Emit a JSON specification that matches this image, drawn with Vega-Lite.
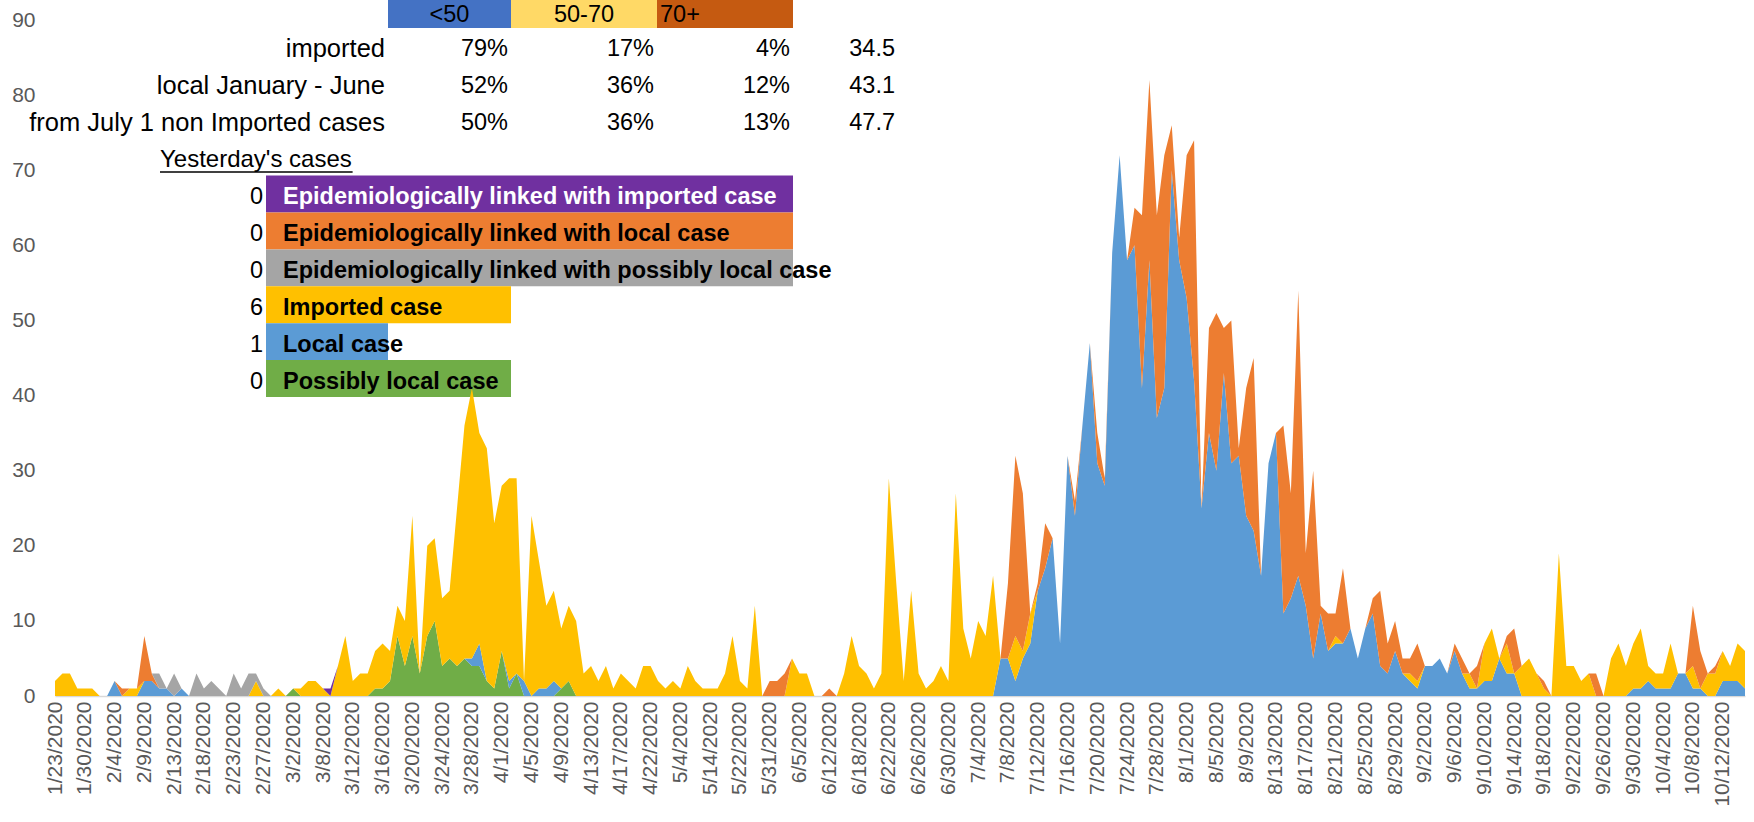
{
"$schema": "https://vega.github.io/schema/vega-lite/v6.json",
"width": 1690,
"height": 676,
"autosize": {"type": "none"},
"padding": {"left": 55, "top": 20, "right": 9, "bottom": 126},
"background": "white",
"config": {"view": {"stroke": null}, "font": "Liberation Sans"},
"datasets": {
"series": [{"key":"pl","rank":1},{"key":"l","rank":2},{"key":"imp","rank":3},{"key":"ll","rank":4},{"key":"lpl","rank":5},{"key":"li","rank":6}],
"cells": [
{"key":"<50","c0":2,"c1":3,"r0":0,"r1":1},
{"key":"50-70","c0":3,"c1":4,"r0":0,"r1":1},
{"key":"70+","c0":4,"c1":5,"r0":0,"r1":1},
{"key":"li","c0":1,"c1":5,"r0":5,"r1":6},
{"key":"ll","c0":1,"c1":5,"r0":6,"r1":7},
{"key":"lpl","c0":1,"c1":5,"r0":7,"r1":8},
{"key":"imp","c0":1,"c1":3,"r0":8,"r1":9},
{"key":"l","c0":1,"c1":2,"r0":9,"r1":10},
{"key":"pl","c0":1,"c1":3,"r0":10,"r1":11}
],
"texts": [
{"kind":"head-c","col":2,"row":0,"text":"<50"},
{"kind":"head-c","col":3,"row":0,"text":"50-70"},
{"kind":"head-l","col":4,"row":0,"text":"70+"},
{"kind":"rowlabel","col":1,"row":1,"text":"imported"},
{"kind":"cell","col":2,"row":1,"text":"79%"},
{"kind":"cell","col":3,"row":1,"text":"17%"},
{"kind":"cell","col":4,"row":1,"text":"4%"},
{"kind":"cell","col":5,"row":1,"text":"34.5"},
{"kind":"rowlabel","col":1,"row":2,"text":"local January - June"},
{"kind":"cell","col":2,"row":2,"text":"52%"},
{"kind":"cell","col":3,"row":2,"text":"36%"},
{"kind":"cell","col":4,"row":2,"text":"12%"},
{"kind":"cell","col":5,"row":2,"text":"43.1"},
{"kind":"rowlabel","col":1,"row":3,"text":"from July 1 non Imported cases"},
{"kind":"cell","col":2,"row":3,"text":"50%"},
{"kind":"cell","col":3,"row":3,"text":"36%"},
{"kind":"cell","col":4,"row":3,"text":"13%"},
{"kind":"cell","col":5,"row":3,"text":"47.7"},
{"kind":"title","col":0,"row":4,"text":"Yesterday's cases"},
{"kind":"cell","col":0,"row":5,"text":"0"},
{"kind":"cell","col":0,"row":6,"text":"0"},
{"kind":"cell","col":0,"row":7,"text":"0"},
{"kind":"cell","col":0,"row":8,"text":"6"},
{"kind":"cell","col":0,"row":9,"text":"1"},
{"kind":"cell","col":0,"row":10,"text":"0"},
{"kind":"legend","col":1,"row":5,"text":"Epidemiologically linked with imported case"},
{"kind":"legend","col":1,"row":6,"text":"Epidemiologically linked with local case"},
{"kind":"legend","col":1,"row":7,"text":"Epidemiologically linked with possibly local case"},
{"kind":"legend","col":1,"row":8,"text":"Imported case"},
{"kind":"legend","col":1,"row":9,"text":"Local case"},
{"kind":"legend","col":1,"row":10,"text":"Possibly local case"}
],
"cases": [
{"date":"1/23/2020","pl":0,"l":0,"imp":2,"ll":0,"lpl":0,"li":0},
{"date":"1/24/2020","pl":0,"l":0,"imp":3,"ll":0,"lpl":0,"li":0},
{"date":"1/26/2020","pl":0,"l":0,"imp":3,"ll":0,"lpl":0,"li":0},
{"date":"1/28/2020","pl":0,"l":0,"imp":1,"ll":0,"lpl":0,"li":0},
{"date":"1/30/2020","pl":0,"l":0,"imp":1,"ll":0,"lpl":0,"li":0},
{"date":"1/31/2020","pl":0,"l":0,"imp":1,"ll":0,"lpl":0,"li":0},
{"date":"2/1/2020","pl":0,"l":0,"imp":0,"ll":0,"lpl":0,"li":0},
{"date":"2/3/2020","pl":0,"l":0,"imp":0,"ll":0,"lpl":0,"li":0},
{"date":"2/4/2020","pl":0,"l":2,"imp":0,"ll":0,"lpl":0,"li":0},
{"date":"2/5/2020","pl":0,"l":0,"imp":0,"ll":1,"lpl":0,"li":0},
{"date":"2/7/2020","pl":0,"l":0,"imp":1,"ll":0,"lpl":0,"li":0},
{"date":"2/8/2020","pl":0,"l":0,"imp":1,"ll":0,"lpl":0,"li":0},
{"date":"2/9/2020","pl":0,"l":2,"imp":0,"ll":6,"lpl":0,"li":0},
{"date":"2/10/2020","pl":0,"l":2,"imp":0,"ll":1,"lpl":0,"li":0},
{"date":"2/11/2020","pl":0,"l":1,"imp":0,"ll":0,"lpl":2,"li":0},
{"date":"2/12/2020","pl":0,"l":1,"imp":0,"ll":0,"lpl":0,"li":0},
{"date":"2/13/2020","pl":0,"l":0,"imp":0,"ll":0,"lpl":3,"li":0},
{"date":"2/14/2020","pl":0,"l":1,"imp":0,"ll":0,"lpl":0,"li":0},
{"date":"2/15/2020","pl":0,"l":0,"imp":0,"ll":0,"lpl":0,"li":0},
{"date":"2/17/2020","pl":0,"l":0,"imp":0,"ll":0,"lpl":3,"li":0},
{"date":"2/18/2020","pl":0,"l":0,"imp":0,"ll":0,"lpl":1,"li":0},
{"date":"2/19/2020","pl":0,"l":0,"imp":0,"ll":0,"lpl":2,"li":0},
{"date":"2/20/2020","pl":0,"l":0,"imp":0,"ll":0,"lpl":1,"li":0},
{"date":"2/22/2020","pl":0,"l":0,"imp":0,"ll":0,"lpl":0,"li":0},
{"date":"2/23/2020","pl":0,"l":0,"imp":0,"ll":0,"lpl":3,"li":0},
{"date":"2/24/2020","pl":0,"l":0,"imp":0,"ll":0,"lpl":1,"li":0},
{"date":"2/25/2020","pl":0,"l":0,"imp":0,"ll":0,"lpl":3,"li":0},
{"date":"2/26/2020","pl":0,"l":0,"imp":2,"ll":0,"lpl":1,"li":0},
{"date":"2/27/2020","pl":0,"l":0,"imp":0,"ll":0,"lpl":1,"li":0},
{"date":"2/28/2020","pl":0,"l":0,"imp":0,"ll":0,"lpl":0,"li":0},
{"date":"2/29/2020","pl":0,"l":0,"imp":1,"ll":0,"lpl":0,"li":0},
{"date":"3/1/2020","pl":0,"l":0,"imp":0,"ll":0,"lpl":0,"li":0},
{"date":"3/2/2020","pl":1,"l":0,"imp":0,"ll":0,"lpl":0,"li":0},
{"date":"3/4/2020","pl":0,"l":0,"imp":1,"ll":0,"lpl":0,"li":0},
{"date":"3/5/2020","pl":0,"l":0,"imp":2,"ll":0,"lpl":0,"li":0},
{"date":"3/7/2020","pl":0,"l":0,"imp":2,"ll":0,"lpl":0,"li":0},
{"date":"3/8/2020","pl":0,"l":0,"imp":1,"ll":0,"lpl":0,"li":0},
{"date":"3/9/2020","pl":0,"l":0,"imp":0,"ll":0,"lpl":0,"li":1},
{"date":"3/10/2020","pl":0,"l":0,"imp":4,"ll":0,"lpl":0,"li":0},
{"date":"3/11/2020","pl":0,"l":0,"imp":8,"ll":0,"lpl":0,"li":0},
{"date":"3/12/2020","pl":0,"l":0,"imp":2,"ll":0,"lpl":0,"li":0},
{"date":"3/13/2020","pl":0,"l":0,"imp":3,"ll":0,"lpl":0,"li":0},
{"date":"3/14/2020","pl":0,"l":0,"imp":3,"ll":0,"lpl":0,"li":0},
{"date":"3/15/2020","pl":1,"l":0,"imp":5,"ll":0,"lpl":0,"li":0},
{"date":"3/16/2020","pl":1,"l":0,"imp":6,"ll":0,"lpl":0,"li":0},
{"date":"3/17/2020","pl":2,"l":0,"imp":4,"ll":0,"lpl":0,"li":0},
{"date":"3/18/2020","pl":8,"l":0,"imp":4,"ll":0,"lpl":0,"li":0},
{"date":"3/19/2020","pl":4,"l":0,"imp":6,"ll":0,"lpl":0,"li":0},
{"date":"3/20/2020","pl":8,"l":0,"imp":16,"ll":0,"lpl":0,"li":0},
{"date":"3/21/2020","pl":3,"l":0,"imp":0,"ll":0,"lpl":0,"li":0},
{"date":"3/22/2020","pl":8,"l":0,"imp":12,"ll":0,"lpl":0,"li":0},
{"date":"3/23/2020","pl":10,"l":0,"imp":11,"ll":0,"lpl":0,"li":0},
{"date":"3/24/2020","pl":4,"l":0,"imp":9,"ll":0,"lpl":0,"li":0},
{"date":"3/25/2020","pl":5,"l":0,"imp":9,"ll":0,"lpl":0,"li":0},
{"date":"3/26/2020","pl":4,"l":0,"imp":21,"ll":0,"lpl":0,"li":0},
{"date":"3/27/2020","pl":5,"l":0,"imp":31,"ll":0,"lpl":0,"li":0},
{"date":"3/28/2020","pl":4,"l":1,"imp":36,"ll":0,"lpl":0,"li":0},
{"date":"3/29/2020","pl":4,"l":3,"imp":28,"ll":0,"lpl":0,"li":0},
{"date":"3/30/2020","pl":2,"l":0,"imp":31,"ll":0,"lpl":0,"li":0},
{"date":"3/31/2020","pl":1,"l":0,"imp":22,"ll":0,"lpl":0,"li":0},
{"date":"4/1/2020","pl":6,"l":0,"imp":22,"ll":0,"lpl":0,"li":0},
{"date":"4/2/2020","pl":1,"l":1,"imp":27,"ll":0,"lpl":0,"li":0},
{"date":"4/3/2020","pl":3,"l":0,"imp":26,"ll":0,"lpl":0,"li":0},
{"date":"4/4/2020","pl":0,"l":2,"imp":0,"ll":0,"lpl":0,"li":0},
{"date":"4/5/2020","pl":0,"l":0,"imp":24,"ll":0,"lpl":0,"li":0},
{"date":"4/6/2020","pl":0,"l":1,"imp":17,"ll":0,"lpl":0,"li":0},
{"date":"4/7/2020","pl":0,"l":1,"imp":11,"ll":0,"lpl":0,"li":0},
{"date":"4/8/2020","pl":0,"l":2,"imp":12,"ll":0,"lpl":0,"li":0},
{"date":"4/9/2020","pl":1,"l":0,"imp":8,"ll":0,"lpl":0,"li":0},
{"date":"4/10/2020","pl":2,"l":0,"imp":10,"ll":0,"lpl":0,"li":0},
{"date":"4/11/2020","pl":0,"l":0,"imp":10,"ll":0,"lpl":0,"li":0},
{"date":"4/12/2020","pl":0,"l":0,"imp":3,"ll":0,"lpl":0,"li":0},
{"date":"4/13/2020","pl":0,"l":0,"imp":4,"ll":0,"lpl":0,"li":0},
{"date":"4/14/2020","pl":0,"l":0,"imp":2,"ll":0,"lpl":0,"li":0},
{"date":"4/15/2020","pl":0,"l":0,"imp":4,"ll":0,"lpl":0,"li":0},
{"date":"4/16/2020","pl":0,"l":0,"imp":1,"ll":0,"lpl":0,"li":0},
{"date":"4/17/2020","pl":0,"l":0,"imp":3,"ll":0,"lpl":0,"li":0},
{"date":"4/18/2020","pl":0,"l":0,"imp":2,"ll":0,"lpl":0,"li":0},
{"date":"4/20/2020","pl":0,"l":0,"imp":1,"ll":0,"lpl":0,"li":0},
{"date":"4/21/2020","pl":0,"l":0,"imp":4,"ll":0,"lpl":0,"li":0},
{"date":"4/22/2020","pl":0,"l":0,"imp":4,"ll":0,"lpl":0,"li":0},
{"date":"4/25/2020","pl":0,"l":0,"imp":2,"ll":0,"lpl":0,"li":0},
{"date":"4/28/2020","pl":0,"l":0,"imp":1,"ll":0,"lpl":0,"li":0},
{"date":"5/1/2020","pl":0,"l":0,"imp":2,"ll":0,"lpl":0,"li":0},
{"date":"5/4/2020","pl":0,"l":0,"imp":1,"ll":0,"lpl":0,"li":0},
{"date":"5/6/2020","pl":0,"l":0,"imp":4,"ll":0,"lpl":0,"li":0},
{"date":"5/9/2020","pl":0,"l":0,"imp":2,"ll":0,"lpl":0,"li":0},
{"date":"5/12/2020","pl":0,"l":0,"imp":1,"ll":0,"lpl":0,"li":0},
{"date":"5/14/2020","pl":0,"l":0,"imp":1,"ll":0,"lpl":0,"li":0},
{"date":"5/16/2020","pl":0,"l":0,"imp":1,"ll":0,"lpl":0,"li":0},
{"date":"5/18/2020","pl":0,"l":0,"imp":3,"ll":0,"lpl":0,"li":0},
{"date":"5/20/2020","pl":0,"l":0,"imp":8,"ll":0,"lpl":0,"li":0},
{"date":"5/22/2020","pl":0,"l":0,"imp":2,"ll":0,"lpl":0,"li":0},
{"date":"5/24/2020","pl":0,"l":0,"imp":1,"ll":0,"lpl":0,"li":0},
{"date":"5/27/2020","pl":0,"l":0,"imp":12,"ll":0,"lpl":0,"li":0},
{"date":"5/29/2020","pl":0,"l":0,"imp":0,"ll":0,"lpl":0,"li":0},
{"date":"5/31/2020","pl":0,"l":0,"imp":0,"ll":2,"lpl":0,"li":0},
{"date":"6/1/2020","pl":0,"l":0,"imp":0,"ll":2,"lpl":0,"li":0},
{"date":"6/2/2020","pl":0,"l":0,"imp":0,"ll":3,"lpl":0,"li":0},
{"date":"6/3/2020","pl":0,"l":0,"imp":5,"ll":0,"lpl":0,"li":0},
{"date":"6/5/2020","pl":0,"l":0,"imp":3,"ll":0,"lpl":0,"li":0},
{"date":"6/7/2020","pl":0,"l":0,"imp":3,"ll":0,"lpl":0,"li":0},
{"date":"6/9/2020","pl":0,"l":0,"imp":0,"ll":0,"lpl":0,"li":0},
{"date":"6/10/2020","pl":0,"l":0,"imp":0,"ll":0,"lpl":0,"li":0},
{"date":"6/12/2020","pl":0,"l":0,"imp":0,"ll":1,"lpl":0,"li":0},
{"date":"6/14/2020","pl":0,"l":0,"imp":0,"ll":0,"lpl":0,"li":0},
{"date":"6/15/2020","pl":0,"l":0,"imp":3,"ll":0,"lpl":0,"li":0},
{"date":"6/16/2020","pl":0,"l":0,"imp":8,"ll":0,"lpl":0,"li":0},
{"date":"6/18/2020","pl":0,"l":0,"imp":4,"ll":0,"lpl":0,"li":0},
{"date":"6/19/2020","pl":0,"l":0,"imp":3,"ll":0,"lpl":0,"li":0},
{"date":"6/20/2020","pl":0,"l":0,"imp":1,"ll":0,"lpl":0,"li":0},
{"date":"6/21/2020","pl":0,"l":0,"imp":3,"ll":0,"lpl":0,"li":0},
{"date":"6/22/2020","pl":0,"l":0,"imp":29,"ll":0,"lpl":0,"li":0},
{"date":"6/23/2020","pl":0,"l":0,"imp":15,"ll":0,"lpl":0,"li":0},
{"date":"6/24/2020","pl":0,"l":0,"imp":2,"ll":0,"lpl":0,"li":0},
{"date":"6/25/2020","pl":0,"l":0,"imp":14,"ll":0,"lpl":0,"li":0},
{"date":"6/26/2020","pl":0,"l":0,"imp":3,"ll":0,"lpl":0,"li":0},
{"date":"6/27/2020","pl":0,"l":0,"imp":1,"ll":0,"lpl":0,"li":0},
{"date":"6/28/2020","pl":0,"l":0,"imp":2,"ll":0,"lpl":0,"li":0},
{"date":"6/29/2020","pl":0,"l":0,"imp":4,"ll":0,"lpl":0,"li":0},
{"date":"6/30/2020","pl":0,"l":0,"imp":2,"ll":0,"lpl":0,"li":0},
{"date":"7/1/2020","pl":0,"l":0,"imp":27,"ll":0,"lpl":0,"li":0},
{"date":"7/2/2020","pl":0,"l":0,"imp":9,"ll":0,"lpl":0,"li":0},
{"date":"7/3/2020","pl":0,"l":0,"imp":5,"ll":0,"lpl":0,"li":0},
{"date":"7/4/2020","pl":0,"l":0,"imp":10,"ll":0,"lpl":0,"li":0},
{"date":"7/5/2020","pl":0,"l":0,"imp":8,"ll":0,"lpl":0,"li":0},
{"date":"7/6/2020","pl":0,"l":0,"imp":16,"ll":0,"lpl":0,"li":0},
{"date":"7/7/2020","pl":0,"l":5,"imp":0,"ll":0,"lpl":0,"li":0},
{"date":"7/8/2020","pl":0,"l":5,"imp":0,"ll":10,"lpl":0,"li":0},
{"date":"7/9/2020","pl":0,"l":2,"imp":6,"ll":24,"lpl":0,"li":0},
{"date":"7/10/2020","pl":0,"l":5,"imp":1,"ll":21,"lpl":0,"li":0},
{"date":"7/11/2020","pl":0,"l":7,"imp":4,"ll":0,"lpl":0,"li":0},
{"date":"7/12/2020","pl":0,"l":14,"imp":0,"ll":1,"lpl":0,"li":0},
{"date":"7/13/2020","pl":0,"l":17,"imp":0,"ll":6,"lpl":0,"li":0},
{"date":"7/14/2020","pl":0,"l":21,"imp":0,"ll":0,"lpl":0,"li":0},
{"date":"7/15/2020","pl":0,"l":7,"imp":0,"ll":0,"lpl":0,"li":0},
{"date":"7/16/2020","pl":0,"l":32,"imp":0,"ll":0,"lpl":0,"li":0},
{"date":"7/17/2020","pl":0,"l":24,"imp":0,"ll":2,"lpl":0,"li":0},
{"date":"7/18/2020","pl":0,"l":36,"imp":0,"ll":0,"lpl":0,"li":0},
{"date":"7/19/2020","pl":0,"l":47,"imp":0,"ll":0,"lpl":0,"li":0},
{"date":"7/20/2020","pl":0,"l":31,"imp":0,"ll":4,"lpl":0,"li":0},
{"date":"7/21/2020","pl":0,"l":28,"imp":0,"ll":1,"lpl":0,"li":0},
{"date":"7/22/2020","pl":0,"l":59,"imp":0,"ll":0,"lpl":0,"li":0},
{"date":"7/23/2020","pl":0,"l":72,"imp":0,"ll":0,"lpl":0,"li":0},
{"date":"7/24/2020","pl":0,"l":58,"imp":0,"ll":0,"lpl":0,"li":0},
{"date":"7/25/2020","pl":0,"l":60,"imp":0,"ll":5,"lpl":0,"li":0},
{"date":"7/26/2020","pl":0,"l":41,"imp":0,"ll":23,"lpl":0,"li":0},
{"date":"7/27/2020","pl":0,"l":58,"imp":0,"ll":24,"lpl":0,"li":0},
{"date":"7/28/2020","pl":0,"l":37,"imp":0,"ll":27,"lpl":0,"li":0},
{"date":"7/29/2020","pl":0,"l":41,"imp":0,"ll":31,"lpl":0,"li":0},
{"date":"7/30/2020","pl":0,"l":70,"imp":0,"ll":6,"lpl":0,"li":0},
{"date":"7/31/2020","pl":0,"l":58,"imp":0,"ll":3,"lpl":0,"li":0},
{"date":"8/1/2020","pl":0,"l":53,"imp":0,"ll":19,"lpl":0,"li":0},
{"date":"8/2/2020","pl":0,"l":42,"imp":0,"ll":32,"lpl":0,"li":0},
{"date":"8/3/2020","pl":0,"l":25,"imp":0,"ll":0,"lpl":0,"li":0},
{"date":"8/4/2020","pl":0,"l":35,"imp":0,"ll":14,"lpl":0,"li":0},
{"date":"8/5/2020","pl":0,"l":30,"imp":0,"ll":21,"lpl":0,"li":0},
{"date":"8/6/2020","pl":0,"l":43,"imp":0,"ll":6,"lpl":0,"li":0},
{"date":"8/7/2020","pl":0,"l":31,"imp":0,"ll":19,"lpl":0,"li":0},
{"date":"8/8/2020","pl":0,"l":32,"imp":0,"ll":1,"lpl":0,"li":0},
{"date":"8/9/2020","pl":0,"l":24,"imp":0,"ll":17,"lpl":0,"li":0},
{"date":"8/10/2020","pl":0,"l":22,"imp":0,"ll":23,"lpl":0,"li":0},
{"date":"8/11/2020","pl":0,"l":16,"imp":0,"ll":0,"lpl":0,"li":0},
{"date":"8/12/2020","pl":0,"l":31,"imp":0,"ll":0,"lpl":0,"li":0},
{"date":"8/13/2020","pl":0,"l":35,"imp":0,"ll":0,"lpl":0,"li":0},
{"date":"8/14/2020","pl":0,"l":11,"imp":0,"ll":25,"lpl":0,"li":0},
{"date":"8/15/2020","pl":0,"l":13,"imp":0,"ll":14,"lpl":0,"li":0},
{"date":"8/16/2020","pl":0,"l":16,"imp":0,"ll":38,"lpl":0,"li":0},
{"date":"8/17/2020","pl":0,"l":12,"imp":0,"ll":7,"lpl":0,"li":0},
{"date":"8/18/2020","pl":0,"l":5,"imp":0,"ll":25,"lpl":0,"li":0},
{"date":"8/19/2020","pl":0,"l":11,"imp":0,"ll":1,"lpl":0,"li":0},
{"date":"8/20/2020","pl":0,"l":6,"imp":0,"ll":5,"lpl":0,"li":0},
{"date":"8/21/2020","pl":0,"l":7,"imp":1,"ll":3,"lpl":0,"li":0},
{"date":"8/22/2020","pl":0,"l":7,"imp":0,"ll":10,"lpl":0,"li":0},
{"date":"8/23/2020","pl":0,"l":9,"imp":0,"ll":0,"lpl":0,"li":0},
{"date":"8/24/2020","pl":0,"l":5,"imp":0,"ll":0,"lpl":0,"li":0},
{"date":"8/25/2020","pl":0,"l":9,"imp":0,"ll":0,"lpl":0,"li":0},
{"date":"8/26/2020","pl":0,"l":11,"imp":0,"ll":2,"lpl":0,"li":0},
{"date":"8/27/2020","pl":0,"l":4,"imp":0,"ll":10,"lpl":0,"li":0},
{"date":"8/28/2020","pl":0,"l":3,"imp":0,"ll":4,"lpl":0,"li":0},
{"date":"8/29/2020","pl":0,"l":6,"imp":0,"ll":4,"lpl":0,"li":0},
{"date":"8/30/2020","pl":0,"l":3,"imp":0,"ll":2,"lpl":0,"li":0},
{"date":"8/31/2020","pl":0,"l":2,"imp":1,"ll":2,"lpl":0,"li":0},
{"date":"9/1/2020","pl":0,"l":1,"imp":1,"ll":5,"lpl":0,"li":0},
{"date":"9/2/2020","pl":0,"l":4,"imp":0,"ll":0,"lpl":0,"li":0},
{"date":"9/3/2020","pl":0,"l":4,"imp":0,"ll":0,"lpl":0,"li":0},
{"date":"9/4/2020","pl":0,"l":5,"imp":0,"ll":0,"lpl":0,"li":0},
{"date":"9/5/2020","pl":0,"l":3,"imp":0,"ll":0,"lpl":0,"li":0},
{"date":"9/6/2020","pl":0,"l":6,"imp":0,"ll":1,"lpl":0,"li":0},
{"date":"9/7/2020","pl":0,"l":3,"imp":0,"ll":2,"lpl":0,"li":0},
{"date":"9/8/2020","pl":0,"l":1,"imp":2,"ll":0,"lpl":0,"li":0},
{"date":"9/9/2020","pl":0,"l":1,"imp":0,"ll":3,"lpl":0,"li":0},
{"date":"9/10/2020","pl":0,"l":2,"imp":5,"ll":0,"lpl":0,"li":0},
{"date":"9/11/2020","pl":0,"l":2,"imp":7,"ll":0,"lpl":0,"li":0},
{"date":"9/12/2020","pl":0,"l":5,"imp":0,"ll":0,"lpl":0,"li":0},
{"date":"9/13/2020","pl":0,"l":3,"imp":4,"ll":1,"lpl":0,"li":0},
{"date":"9/14/2020","pl":0,"l":3,"imp":0,"ll":6,"lpl":0,"li":0},
{"date":"9/15/2020","pl":0,"l":0,"imp":4,"ll":0,"lpl":0,"li":0},
{"date":"9/16/2020","pl":0,"l":0,"imp":5,"ll":0,"lpl":0,"li":0},
{"date":"9/17/2020","pl":0,"l":0,"imp":3,"ll":0,"lpl":0,"li":0},
{"date":"9/18/2020","pl":0,"l":0,"imp":1,"ll":1,"lpl":0,"li":0},
{"date":"9/19/2020","pl":0,"l":0,"imp":0,"ll":0,"lpl":0,"li":0},
{"date":"9/20/2020","pl":0,"l":0,"imp":19,"ll":0,"lpl":0,"li":0},
{"date":"9/21/2020","pl":0,"l":0,"imp":4,"ll":0,"lpl":0,"li":0},
{"date":"9/22/2020","pl":0,"l":0,"imp":4,"ll":0,"lpl":0,"li":0},
{"date":"9/23/2020","pl":0,"l":0,"imp":2,"ll":0,"lpl":0,"li":0},
{"date":"9/24/2020","pl":0,"l":0,"imp":3,"ll":0,"lpl":0,"li":0},
{"date":"9/25/2020","pl":0,"l":0,"imp":0,"ll":3,"lpl":0,"li":0},
{"date":"9/26/2020","pl":0,"l":0,"imp":0,"ll":0,"lpl":0,"li":0},
{"date":"9/27/2020","pl":0,"l":0,"imp":5,"ll":0,"lpl":0,"li":0},
{"date":"9/28/2020","pl":0,"l":0,"imp":7,"ll":0,"lpl":0,"li":0},
{"date":"9/29/2020","pl":0,"l":0,"imp":4,"ll":0,"lpl":0,"li":0},
{"date":"9/30/2020","pl":0,"l":1,"imp":6,"ll":0,"lpl":0,"li":0},
{"date":"10/1/2020","pl":0,"l":1,"imp":8,"ll":0,"lpl":0,"li":0},
{"date":"10/2/2020","pl":0,"l":2,"imp":2,"ll":0,"lpl":0,"li":0},
{"date":"10/3/2020","pl":0,"l":1,"imp":2,"ll":0,"lpl":0,"li":0},
{"date":"10/4/2020","pl":0,"l":1,"imp":2,"ll":0,"lpl":0,"li":0},
{"date":"10/5/2020","pl":0,"l":1,"imp":6,"ll":0,"lpl":0,"li":0},
{"date":"10/6/2020","pl":0,"l":3,"imp":0,"ll":0,"lpl":0,"li":0},
{"date":"10/7/2020","pl":0,"l":3,"imp":0,"ll":0,"lpl":0,"li":0},
{"date":"10/8/2020","pl":0,"l":1,"imp":3,"ll":8,"lpl":0,"li":0},
{"date":"10/9/2020","pl":0,"l":1,"imp":0,"ll":5,"lpl":0,"li":0},
{"date":"10/10/2020","pl":0,"l":0,"imp":3,"ll":0,"lpl":0,"li":0},
{"date":"10/11/2020","pl":0,"l":0,"imp":3,"ll":1,"lpl":0,"li":0},
{"date":"10/12/2020","pl":0,"l":2,"imp":4,"ll":0,"lpl":0,"li":0},
{"date":"10/13/2020","pl":0,"l":2,"imp":2,"ll":0,"lpl":0,"li":0},
{"date":"10/14/2020","pl":0,"l":2,"imp":5,"ll":0,"lpl":0,"li":0},
{"date":"10/15/2020","pl":0,"l":1,"imp":5,"ll":0,"lpl":0,"li":0}
]
},
"layer": [
{
"data": {"name": "cells"},
"mark": {"type": "rect"},
"encoding": {
"x": {"field": "c0", "type": "quantitative", "scale": {"domain": [0,1,2,3,4,5,6], "range": [105,211,333,456,602,738,843], "nice": false, "zero": false}, "axis": null},
"x2": {"field": "c1"},
"y": {"field": "r0", "type": "quantitative", "scale": {"domain": [0,11], "range": [-28.9,377], "nice": false, "zero": false}, "axis": null},
"y2": {"field": "r1"},
"color": {"field": "key", "type": "nominal", "scale": {"domain": ["pl","l","imp","ll","lpl","li","<50","50-70","70+"], "range": ["#70AD47","#5B9BD5","#FFC000","#ED7D31","#A5A5A5","#7030A0","#4472C4","#FFD966","#C55A11"]}, "legend": null}
}
},
{
"data": {"name": "cases"},
"transform": [
{"fold": ["pl","l","imp","ll","lpl","li"], "as": ["key","value"]},
{"lookup": "key", "from": {"data": {"name": "series"}, "key": "key", "fields": ["rank"]}}
],
"mark": {"type": "area", "interpolate": "linear"},
"encoding": {
"x": {"field": "date", "type": "ordinal", "sort": null, "scale": {"type": "point", "padding": 0},
"axis": {"title": null, "labelAngle": -90, "labelFont": "Liberation Sans", "labelFontSize": 21, "labelColor": "#595959", "ticks": false, "domainColor": "#D9D9D9", "domainWidth": 1.5, "labelPadding": 5, "labelOverlap": false, "grid": false,
"values": ["1/23/2020","1/30/2020","2/4/2020","2/9/2020","2/13/2020","2/18/2020","2/23/2020","2/27/2020","3/2/2020","3/8/2020","3/12/2020","3/16/2020","3/20/2020","3/24/2020","3/28/2020","4/1/2020","4/5/2020","4/9/2020","4/13/2020","4/17/2020","4/22/2020","5/4/2020","5/14/2020","5/22/2020","5/31/2020","6/5/2020","6/12/2020","6/18/2020","6/22/2020","6/26/2020","6/30/2020","7/4/2020","7/8/2020","7/12/2020","7/16/2020","7/20/2020","7/24/2020","7/28/2020","8/1/2020","8/5/2020","8/9/2020","8/13/2020","8/17/2020","8/21/2020","8/25/2020","8/29/2020","9/2/2020","9/6/2020","9/10/2020","9/14/2020","9/18/2020","9/22/2020","9/26/2020","9/30/2020","10/4/2020","10/8/2020","10/12/2020"]}},
"y": {"field": "value", "type": "quantitative", "stack": "zero", "scale": {"domain": [0,90], "nice": false},
"axis": {"title": null, "values": [0,10,20,30,40,50,60,70,80,90], "labelFont": "Liberation Sans", "labelFontSize": 21, "labelColor": "#595959", "ticks": false, "domain": false, "grid": false, "labelPadding": 20}},
"color": {"field": "key", "type": "nominal", "scale": {"domain": ["pl","l","imp","ll","lpl","li","<50","50-70","70+"], "range": ["#70AD47","#5B9BD5","#FFC000","#ED7D31","#A5A5A5","#7030A0","#4472C4","#FFD966","#C55A11"]}, "legend": null},
"order": {"field": "rank", "type": "quantitative"}
}
},
{
"data": {"name": "texts"},
"transform": [{"filter": "datum.kind == 'cell'"}],
"mark": {"type": "text", "align": "right", "baseline": "middle", "dx": -3, "dy": 3, "fontSize": 23.5, "font": "Liberation Sans", "color": "#000000"},
"encoding": {
"x": {"field": "col", "type": "quantitative", "scale": {"domain": [0,1,2,3,4,5], "range": [211,333,456,602,738,843], "nice": false, "zero": false}, "axis": null},
"y": {"field": "row", "type": "quantitative", "scale": {"domain": [0,10], "range": [-10.45,358.55], "nice": false, "zero": false}, "axis": null},
"text": {"field": "text"}
}
},
{
"data": {"name": "texts"},
"transform": [{"filter": "datum.kind == 'rowlabel'"}],
"mark": {"type": "text", "align": "right", "baseline": "middle", "dx": -3, "dy": 3, "fontSize": 25.5, "font": "Liberation Sans", "color": "#000000"},
"encoding": {
"x": {"field": "col", "type": "quantitative", "scale": {"domain": [0,1,2,3,4,5], "range": [211,333,456,602,738,843], "nice": false, "zero": false}, "axis": null},
"y": {"field": "row", "type": "quantitative", "scale": {"domain": [0,10], "range": [-10.45,358.55], "nice": false, "zero": false}, "axis": null},
"text": {"field": "text"}
}
},
{
"data": {"name": "texts"},
"transform": [{"filter": "datum.kind == 'head-c'"}],
"mark": {"type": "text", "align": "center", "baseline": "middle", "dy": 5, "fontSize": 23.5, "font": "Liberation Sans", "color": "#000000"},
"encoding": {
"x": {"field": "col", "type": "quantitative", "scale": {"domain": [0,1,2,3,4,5], "range": [158,272,394.5,529,670,790.5], "nice": false, "zero": false}, "axis": null},
"y": {"field": "row", "type": "quantitative", "scale": {"domain": [0,10], "range": [-10.45,358.55], "nice": false, "zero": false}, "axis": null},
"text": {"field": "text"}
}
},
{
"data": {"name": "texts"},
"transform": [{"filter": "datum.kind == 'head-l'"}],
"mark": {"type": "text", "align": "left", "baseline": "middle", "dx": 3, "dy": 5, "fontSize": 23.5, "font": "Liberation Sans", "color": "#000000"},
"encoding": {
"x": {"field": "col", "type": "quantitative", "scale": {"domain": [0,1,2,3,4,5], "range": [105,211,333,456,602,738], "nice": false, "zero": false}, "axis": null},
"y": {"field": "row", "type": "quantitative", "scale": {"domain": [0,10], "range": [-10.45,358.55], "nice": false, "zero": false}, "axis": null},
"text": {"field": "text"}
}
},
{
"data": {"name": "texts"},
"transform": [{"filter": "datum.kind == 'title'"}],
"mark": {"type": "text", "align": "left", "baseline": "middle", "dx": 0, "dy": 3, "fontSize": 24, "font": "Liberation Sans", "color": "#000000"},
"encoding": {
"x": {"field": "col", "type": "quantitative", "scale": {"domain": [0,1,2,3,4,5], "range": [105,211,333,456,602,738], "nice": false, "zero": false}, "axis": null},
"y": {"field": "row", "type": "quantitative", "scale": {"domain": [0,10], "range": [-10.45,358.55], "nice": false, "zero": false}, "axis": null},
"text": {"field": "text"}
}
},
{
"data": {"name": "texts"},
"transform": [{"filter": "datum.kind == 'legend'"}],
"mark": {"type": "text", "align": "left", "baseline": "middle", "dx": 17, "dy": 3, "fontSize": 23.5, "fontWeight": "bold", "font": "Liberation Sans"},
"encoding": {
"x": {"field": "col", "type": "quantitative", "scale": {"domain": [0,1,2,3,4,5], "range": [105,211,333,456,602,738], "nice": false, "zero": false}, "axis": null},
"y": {"field": "row", "type": "quantitative", "scale": {"domain": [0,10], "range": [-10.45,358.55], "nice": false, "zero": false}, "axis": null},
"text": {"field": "text"},
"color": {"condition": {"test": "datum.row == 5", "value": "#FFFFFF"}, "value": "#000000"}
}
},
{
"data": {"values": [{}]},
"mark": {"type": "rule", "color": "#000000", "strokeWidth": 1.5},
"encoding": {
"x": {"datum": 0, "type": "quantitative", "scale": {"domain": [0,1,2,3,4,5,6], "range": [105,211,333,456,602,738,843], "nice": false, "zero": false}, "axis": null},
"x2": {"datum": 1.71},
"y": {"datum": 4.9, "type": "quantitative", "scale": {"domain": [0,11], "range": [-28.9,377], "nice": false, "zero": false}, "axis": null}
}
}
],
"resolve": {"scale": {"x": "independent", "y": "independent"}}
}
